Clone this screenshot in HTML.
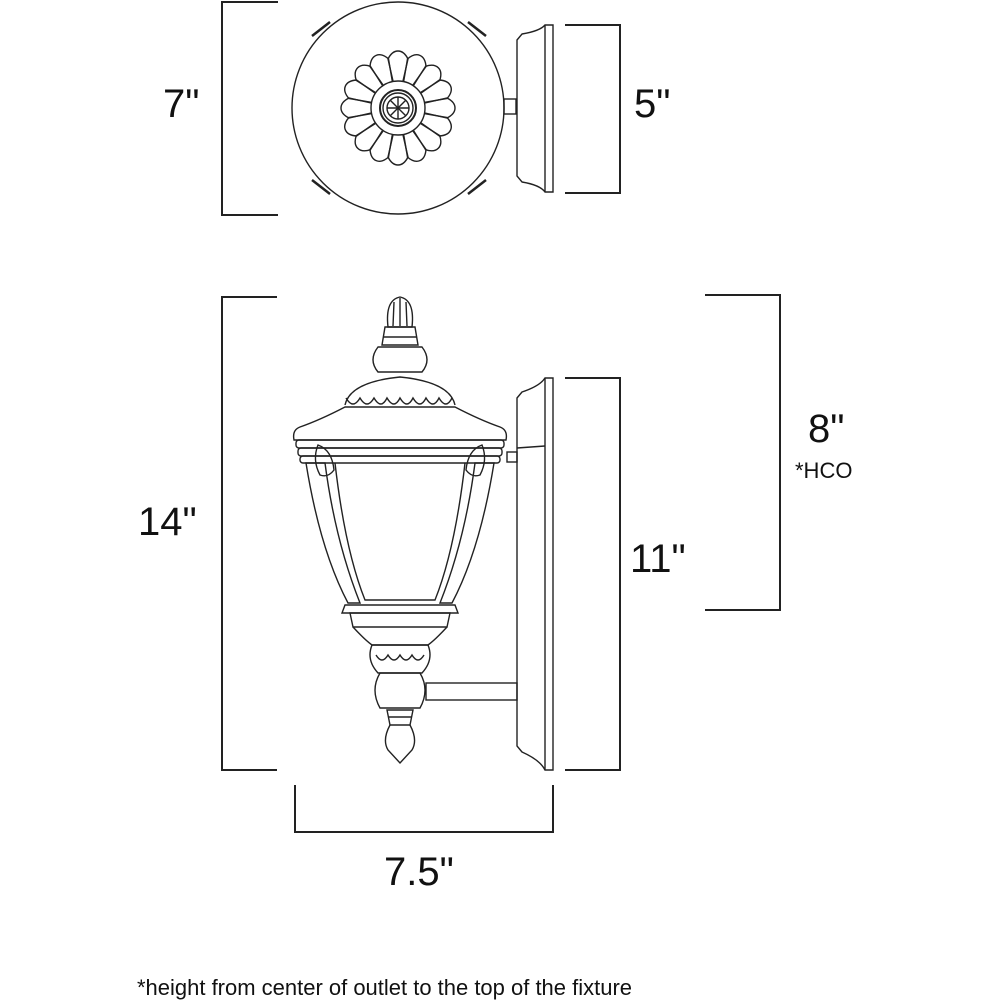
<!DOCTYPE html>
<html><head><meta charset="utf-8"><style>
html,body{margin:0;padding:0;background:#fff;}
svg{display:block;}
text{font-family:"Liberation Sans",sans-serif;fill:#111;}
</style></head><body>
<svg width="1000" height="1000" viewBox="0 0 1000 1000" xmlns="http://www.w3.org/2000/svg">
<g fill="none" stroke="#222" stroke-width="2">
<polyline points="278,2 222,2 222,215 278,215"/>
<polyline points="565,25 620,25 620,193 565,193"/>
<polyline points="277,297 222,297 222,770 277,770"/>
<polyline points="565,378 620,378 620,770 565,770"/>
<polyline points="705,295 780,295 780,610 705,610"/>
<polyline points="295,785 295,832 553,832 553,785"/>
</g>
<g fill="none" stroke="#222" stroke-width="1.4">
<circle cx="398" cy="108" r="106"/>
<g transform="translate(398,108)">
<g id="pet"><path d="M-5,-27 L-10,-49 Q-6,-57 0,-57 Q6,-57 10,-49 L5,-27"/></g>
<use href="#pet" transform="rotate(22.5)"/><use href="#pet" transform="rotate(45)"/><use href="#pet" transform="rotate(67.5)"/>
<use href="#pet" transform="rotate(90)"/><use href="#pet" transform="rotate(112.5)"/><use href="#pet" transform="rotate(135)"/>
<use href="#pet" transform="rotate(157.5)"/><use href="#pet" transform="rotate(180)"/><use href="#pet" transform="rotate(202.5)"/>
<use href="#pet" transform="rotate(225)"/><use href="#pet" transform="rotate(247.5)"/><use href="#pet" transform="rotate(270)"/>
<use href="#pet" transform="rotate(292.5)"/><use href="#pet" transform="rotate(315)"/><use href="#pet" transform="rotate(337.5)"/>
<circle r="27"/><circle r="18" stroke-width="2"/><circle r="15"/><circle r="11"/>
<line x1="-11" y1="0" x2="11" y2="0"/><line x1="0" y1="-11" x2="0" y2="11"/>
<line x1="-8" y1="-8" x2="8" y2="8"/><line x1="-8" y1="8" x2="8" y2="-8"/>
</g>
<g stroke-width="2.5">
<line x1="312" y1="36" x2="330" y2="22"/><line x1="468" y1="22" x2="486" y2="36"/>
<line x1="312" y1="180" x2="330" y2="194"/><line x1="468" y1="194" x2="486" y2="180"/>
</g>
<rect x="504" y="99" width="12" height="15"/>
<path d="M517,40 L522,34 Q540,31 545,25 L553,25 L553,192 L545,192 Q540,185 522,182 L517,176 Z"/>
<line x1="545" y1="25" x2="545" y2="192"/>

<path d="M388,327 Q385,300 400,297 Q415,300 412,327 Z"/>
<line x1="394" y1="302" x2="393" y2="326"/><line x1="400" y1="298" x2="400" y2="326"/><line x1="406" y1="302" x2="407" y2="326"/>
<path d="M385,327 L415,327 L418,345 L382,345 Z"/><line x1="383" y1="337" x2="417" y2="337"/>
<path d="M378,347 L422,347 Q432,360 422,372 L378,372 Q368,360 378,347 Z"/>
<path d="M345,405 Q350,382 400,377 Q450,382 455,405"/>
<path d="M346,398 q7,12 14,0 q7,12 14,0 q7,12 13,0 q7,12 13,0 q7,12 13,0 q7,12 13,0 q7,12 13,0 q7,12 13,0"/>
<path d="M345,407 Q320,420 300,427 Q292,430 294,440 L506,440 Q508,430 500,427 Q480,420 455,407 Z"/>
<rect x="296" y="440" width="208" height="8" rx="3"/>
<rect x="298" y="448" width="204" height="8" rx="3"/>
<rect x="300" y="456" width="200" height="7" rx="3"/>
<path d="M306,463 Q320,550 348,603 L360,603 Q335,540 325,463 Z"/>
<path d="M494,463 Q480,550 452,603 L440,603 Q465,540 475,463 Z"/>
<path d="M335,463 Q345,550 365,600 L435,600 Q455,550 465,463"/>
<path d="M318,445 Q332,450 334,470 Q328,478 320,475 Q312,460 318,445 Z"/>
<path d="M482,445 Q468,450 466,470 Q472,478 480,475 Q488,460 482,445 Z"/>
<path d="M345,605 L455,605 L458,613 L342,613 Z"/>
<path d="M350,613 L450,613 L447,627 L353,627 Z"/>
<path d="M353,627 Q365,640 372,645 L428,645 Q435,640 447,627"/>
<path d="M372,645 Q366,660 378,673 L422,673 Q434,660 428,645 Z"/>
<path d="M376,655 q6,10 12,0 q6,10 12,0 q6,10 12,0 q6,10 12,0"/>
<path d="M380,673 L420,673 Q430,690 420,708 L380,708 Q370,690 380,673 Z"/>
<rect x="426" y="683" width="91" height="17"/>
<rect x="507" y="452" width="10" height="10"/>
<path d="M387,710 L413,710 L410,725 L390,725 Z"/><line x1="388" y1="717" x2="412" y2="717"/>
<path d="M390,725 Q382,740 388,750 L400,763 L412,750 Q418,740 410,725"/>
<path d="M517,398 L522,392 Q540,386 545,378 L553,378 L553,770 L545,770 Q540,760 522,752 L517,746 Z"/>
<line x1="545" y1="378" x2="545" y2="770"/>
<path d="M517,448 L545,446"/>
</g>
<text x="163" y="117" font-size="40">7"</text>
<text x="634" y="117" font-size="40">5"</text>
<text x="138" y="535" font-size="40">14"</text>
<text x="630" y="572" font-size="40">11"</text>
<text x="808" y="442" font-size="40">8"</text>
<text x="795" y="478" font-size="22">*HCO</text>
<text x="384" y="885" font-size="40">7.5"</text>
<text x="137" y="995" font-size="22" textLength="495" lengthAdjust="spacingAndGlyphs">*height from center of outlet to the top of the fixture</text>
</svg>
</body></html>
